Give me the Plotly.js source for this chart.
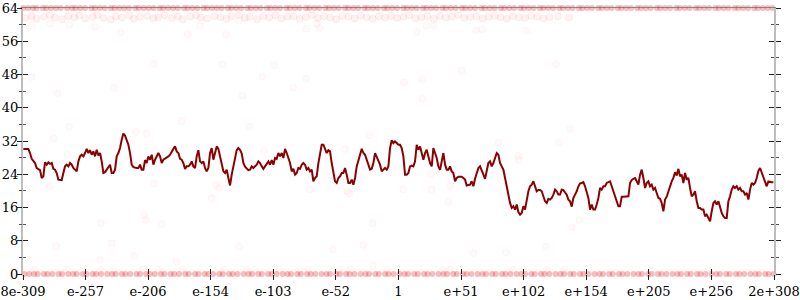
<!DOCTYPE html>
<html>
<head>
<meta charset="utf-8">
<script src="https://cdn.plot.ly/plotly-3.0.1.min.js"></script>
<style>html,body{margin:0;padding:0;background:#fff;}#chart{width:800px;height:300px;}</style>
</head>
<body>
<div id="chart"></div>
<script>
// ---- x axis ticks (log10 exponent units) ----
const xTickVals = [-308.1, -256.8, -205.5, -154.1, -102.8, -51.4, 0, 51.4, 102.8, 154.1, 205.5, 256.8, 308.3];
const xTickText = ["8e-309", "e-257", "e-206", "e-154", "e-103", "e-52", "1", "e+51", "e+102", "e+154", "e+205", "e+256", "2e+308"];

// ---- smoothed line: bins start at exponent lineStart, spaced lineStep ----
const lineStart = -307.8;
const lineStep = 1.368;
const lineY = [
  30.1,30.1,30.1,30.1,29.1,27.7,27.2,26.7,25.5,25.3,
  25.0,23.1,23.5,26.9,26.3,26.9,26.5,26.7,25.3,25.1,
  24.3,22.7,22.6,22.6,24.3,25.9,26.3,25.9,26.7,26.3,
  25.5,25.1,24.7,27.1,28.3,28.7,28.3,29.1,30.1,29.1,
  29.8,28.7,29.5,28.3,29.9,28.5,29.1,27.1,24.3,24.5,
  25.1,25.9,26.3,24.3,24.3,25.1,28.3,29.1,30.3,32.3,
  33.8,33.3,32.3,31.1,29.1,26.3,25.7,25.5,25.5,25.5,
  26.3,25.1,25.1,27.4,26.7,28.3,27.5,28.7,26.3,27.5,
  28.3,29.1,28.3,26.7,27.5,27.7,27.9,28.3,28.7,29.5,
  30.1,30.7,29.5,29.1,27.7,27.5,26.7,25.3,25.9,25.9,
  26.3,27.1,25.9,25.5,28.3,29.8,27.1,26.7,27.1,25.5,
  24.7,25.5,29.1,30.3,27.5,29.1,30.7,30.1,28.3,26.7,
  24.7,24.3,25.1,23.1,21.3,23.9,25.9,28.3,29.8,30.3,
  29.9,29.0,26.7,25.8,25.5,25.0,25.1,25.9,25.5,25.9,
  26.3,27.1,26.7,25.9,25.3,25.9,26.7,27.1,
  26.3,27.4,26.3,27.9,27.7,29.1,28.3,29.1,27.9,30.1,
  29.1,27.9,26.7,24.7,25.3,23.9,24.3,25.5,25.3,26.3,
  26.7,26.3,25.1,25.5,24.7,25.1,22.3,23.1,23.5,26.7,
  29.1,31.1,31.1,30.3,29.1,29.8,29.5,26.7,24.3,22.3,
  21.9,23.1,23.5,24.3,24.3,25.5,23.9,21.9,21.9,22.7,
  21.5,23.1,25.9,27.1,28.7,30.1,29.1,28.7,27.5,25.9,
  25.1,25.3,26.7,29.1,28.3,27.1,26.3,24.7,25.1,25.5,
  25.1,25.9,30.3,32.2,31.5,31.9,31.5,31.1,31.1,30.3,
  28.3,23.9,23.9,24.3,25.9,26.1,25.9,27.1,31.1,29.9,
  30.7,29.1,27.5,29.1,29.9,28.3,26.7,25.9,30.3,29.1,
  27.9,25.9,25.1,27.1,29.1,26.3,25.1,25.1,25.9,24.7,
  24.3,22.3,23.1,23.4,23.4,23.4,23.1,22.7,21.3,21.5,
  21.5,22.3,21.1,22.9,24.3,25.5,25.9,24.7,23.9,22.9,
  25.1,26.7,27.1,25.9,26.7,27.9,29.1,28.7,26.7,25.9,
  25.1,23.1,21.1,18.7,17.1,15.9,16.3,15.5,16.7,14.9,
  14.3,14.7,16.3,15.5,18.3,19.9,
  21.1,21.5,22.3,21.1,19.9,20.2,20.2,19.9,18.7,17.5,
  17.1,18.1,17.9,18.3,19.1,20.3,19.9,19.1,19.1,20.3,
  20.2,19.7,19.1,17.9,17.5,16.2,18.3,19.1,19.9,21.1,
  21.8,21.9,22.1,21.1,19.5,18.3,15.5,16.7,15.5,15.5,
  16.7,18.3,20.7,20.3,21.1,21.1,21.9,22.1,22.3,21.1,
  19.9,18.3,17.1,16.3,16.3,18.6,18.6,18.6,18.6,18.7,
  21.9,22.6,22.9,23.1,22.3,21.5,23.9,25.1,23.1,20.7,
  21.9,22.3,21.1,21.5,20.3,20.7,19.5,18.3,18.1,17.1,
  15.1,17.9,18.6,19.9,21.5,22.3,23.1,24.5,23.7,25.3,
  23.5,23.9,21.9,24.3,22.7,23.1,20.7,18.7,19.1,19.9,
  17.5,15.9,15.9,15.5,15.5,13.9,14.3,13.5,12.7,15.1,
  17.1,17.5,16.7,17.5,15.9,14.7,13.9,13.5,13.5,17.5,
  18.7,20.3,21.1,20.7,21.1,20.3,20.7,19.9,19.9,19.1,
  19.5,17.9,20.3,21.9,21.5,21.9,23.1,24.8,25.5,24.3,
  23.1,22.3,21.1,22.3,22.1,22.1,22.1
];

// ---- faint sample points ----
const topBandValue = 64;
const topBandX = [-308,-304,-300,-297,-292,-289,-285,-281,-277,-272,-268,-265,-261,-257,-252,-249,-245,-241,-236,-233,-229,-225,-221,-216,-213,-209,-205,-201,-196,-193,-189,-185,-181,-176,-173,-169,-165,-160,-157,-153,-149,-145,-140,-137,-133,-129,-124,-121,-117,-113,-108,-105,-101,-97,-92,-89,-85,-81,-76,-73,-69,-65,-60,-57,-53,-49,-44,-41,-37,-33,-28,-25,-21,-17,-12,-9,-5,-1,4,7,11,15,20,23,27,31,36,39,43,47,52,55,59,63,68,71,75,79,84,87,91,95,100,103,107,111,116,119,123,127,132,135,139,143,148,151,155,159,164,167,171,175,180,183,187,191,196,199,203,207,212,215,219,223,228,231,235,239,244,247,251,255,260,263,267,271,276,279,283,287,292,295,299,303,307];
const bottomBandValue = 0;
const bottomBandX = [-307,-303,-299,-296,-291,-288,-284,-279,-276,-271,-267,-264,-259,-256,-251,-248,-244,-239,-235,-232,-227,-224,-220,-215,-212,-207,-204,-200,-195,-192,-187,-184,-180,-175,-172,-167,-164,-159,-156,-152,-147,-144,-139,-136,-132,-127,-123,-120,-115,-112,-107,-104,-100,-95,-91,-88,-83,-80,-75,-72,-68,-63,-59,-56,-51,-48,-43,-40,-36,-31,-27,-24,-19,-16,-11,-8,-4,1,5,8,13,16,21,24,28,33,37,40,45,48,53,56,60,65,69,72,77,80,85,88,92,97,101,104,109,112,117,120,124,129,133,136,141,144,149,152,156,161,165,168,173,176,181,184,188,193,197,200,205,208,213,216,220,225,229,232,237,240,245,248,252,257,261,264,269,272,277,280,284,289,293,296,301,304,308];
const upperBandX = [-306,-301,-297,-291,-286,-282,-276,-271,-266,-262,-257,-251,-247,-242,-236,-232,-227,-221,-217,-212,-206,-201,-197,-192,-186,-181,-177,-171,-166,-162,-157,-151,-146,-141,-137,-131,-126,-122,-116,-111,-106,-101,-96,-91,-86,-81,-76,-71,-66,-61,-56,-51,-46,-41,-36,-31,-26,-21,-16,-11,-6,-1,4,9,14,19,24,29,34,39,44,49,54,59,64,69,74,79,84,89,94,99,104,109,114,119,124,131,140];
const upperBandY = [61.6,62.1,61.4,61.9,62.3,61.7,61.3,62.0,61.8,62.2,61.5,61.9,62.3,61.6,61.2,62.0,61.7,62.2,61.4,61.9,62.1,61.5,61.8,62.3,61.6,62.0,61.3,61.9,62.2,61.7,61.5,62.1,61.8,61.4,62.0,62.3,61.6,61.9,61.3,62.1,61.7,62.2,61.5,61.9,62.0,61.4,61.8,62.3,61.6,62.0,61.7,61.3,62.1,61.9,61.5,62.2,61.8,61.4,62.0,61.7,62.1,61.6,61.9,62.2,61.5,61.8,62.0,61.4,62.1,61.7,61.9,62.3,61.6,61.8,62.0,61.5,61.9,62.1,61.7,61.4,62.0,61.8,61.6,62.1,61.9,61.5,61.8,62.0,61.7];
const lowBandValue = 1;
const lowBandX = [-299.1,-272.0,-244.1,-234.2,-209.6,-196.5,-176.8,-143.1,-124.3,-117.7,-97.2,-81.6,-74.2,-47.9,-39.7,-9.4,36.6,42.4,94.0,122.0,136.0];
const scatterX = [-301.0,-285.9,-270.3,-249.0,-227.9,-200.6,-172.9,-162.8,-144.2,-141.5,-130.8,-301.0,-279.9,-233.2,-111.4,-127.8,-102.1,-75.8,-86.3,-75.8,-64.9,-67.1,15.0,23.2,29.2,63.7,68.6,105.3,4.6,19.9,52.0,19.9,129.3,-270.3,-177.9,-122.4,-282.7,-215.4,-206.6,-271.4,-286.5,-200.3,-149.7,-147.2,-153.2,-125.1,-208.8,-207.2,-194.3,-244.1,-110.3,-23.9,-43.8,-72.6,-42.0,-40.6,4.0,27.3,26.5,42.3,41.0,82.0,98.4,99.2,-21.1,140.8,131.8,148.5,142.2,-281.0,-235.3,-244.9,-217.0,-182.0,-130.6,-53.9,-28.8,-21.1,61.5,88.3,121.1];
const scatterY = [59.7,60.2,60.0,59.4,58.1,50.6,57.7,59.7,50.4,57.5,61.0,47.4,43.4,44.8,47.5,42.9,50.2,47.0,44.9,59.0,59.2,60.2,58.3,59.7,59.7,58.6,58.9,58.6,46.1,46.9,48.9,42.1,50.5,35.4,36.8,35.4,32.6,34.2,33.8,28.9,21.2,21.8,21.5,20.7,18.2,29.5,14.2,13.0,12.0,12.2,29.6,33.4,30.1,20.4,20.0,19.4,20.4,20.4,24.0,21.2,17.3,31.6,28.4,27.4,12.2,34.9,31.6,13.0,11.2,6.8,7.4,3.4,4.4,3.0,6.5,6.0,7.0,2.0,5.0,5.2,6.6];

// ---- build traces ----
const lineX = lineY.map((_, i) => lineStart + i * lineStep);
const faint = {color: 'rgba(255,0,0,0.02)', size: 7, line: {color: 'rgba(255,0,0,0.04)', width: 1}};
const mid = {color: 'rgba(245,0,0,0.05)', size: 7, line: {color: 'rgba(245,0,0,0.05)', width: 1}};
const band = {color: 'rgba(228,20,20,0.28)', size: 6, line: {width: 0}};

function pts(x, y, marker) {
  return {type: 'scatter', mode: 'markers', x: x, y: y, marker: marker, cliponaxis: false, hoverinfo: 'skip', showlegend: false};
}
function dummy(xa, ya) {
  return {type: 'scatter', mode: 'markers', x: [0], y: [0], xaxis: xa, yaxis: ya, marker: {opacity: 0}, hoverinfo: 'skip', showlegend: false};
}

const traces = [
  pts(scatterX, scatterY, faint),
  pts(lowBandX, lowBandX.map(() => lowBandValue), faint),
  pts(upperBandX, upperBandY, mid),
  pts(topBandX, topBandX.map(() => topBandValue), band),
  pts(bottomBandX, bottomBandX.map(() => bottomBandValue), band),
  {type: 'scatter', mode: 'lines', x: lineX, y: lineY, line: {color: '#8b0000', width: 2}, hoverinfo: 'skip', showlegend: false},
  dummy('x2', 'y2'), dummy('x3', 'y3'), dummy('x3', 'y4')
];

const xRange = [-308.1, 308.3];
const yRange = [0, 64];
const tickColor = '#222';
const noGrid = {showgrid: false, zeroline: false, fixedrange: true};

const layout = {
  width: 800, height: 300,
  margin: {l: 23, r: 26, t: 8, b: 26, pad: 0},
  paper_bgcolor: '#fff', plot_bgcolor: '#fff',
  showlegend: false,
  font: {family: 'DejaVu Serif, serif', size: 13, color: '#000'},
  xaxis: Object.assign({range: xRange, tickmode: 'array', tickvals: xTickVals, ticktext: xTickText,
    ticks: 'outside', ticklen: 5, tickcolor: tickColor, tickwidth: 1, showline: false}, noGrid),
  xaxis2: Object.assign({overlaying: 'x', anchor: 'y2', range: xRange, tickmode: 'array', tickvals: xTickVals,
    showticklabels: false, ticks: 'inside', ticklen: 5, tickcolor: tickColor, tickwidth: 1, showline: false}, noGrid),
  xaxis3: Object.assign({overlaying: 'x', anchor: 'y3', side: 'top', range: xRange, showticklabels: false, ticks: '',
    showline: true, linecolor: 'rgba(110,110,110,0.75)', linewidth: 1}, noGrid),
  // labelled left axis: inside ticks so labels sit close to the axis
  yaxis: Object.assign({range: yRange, tick0: 0, dtick: 8, ticks: 'inside', ticklen: 5, tickcolor: tickColor, tickwidth: 1,
    minor: {dtick: 4, ticks: 'inside', ticklen: 3, tickcolor: '#555'},
    showline: true, linecolor: '#bdbdbd', linewidth: 2}, noGrid),
  yaxis2: Object.assign({overlaying: 'y', anchor: 'x2', side: 'left', range: yRange, tick0: 0, dtick: 8, showticklabels: false,
    ticks: 'outside', ticklen: 5, tickcolor: tickColor, tickwidth: 1,
    minor: {dtick: 4, ticks: 'outside', ticklen: 3, tickcolor: '#555'}, showline: false}, noGrid),
  yaxis3: Object.assign({overlaying: 'y', anchor: 'x3', side: 'right', range: yRange, tick0: 0, dtick: 8, showticklabels: false,
    ticks: 'outside', ticklen: 5, tickcolor: tickColor, tickwidth: 1,
    minor: {dtick: 4, ticks: 'outside', ticklen: 3, tickcolor: '#555'},
    showline: true, linecolor: '#bdbdbd', linewidth: 2}, noGrid),
  yaxis4: Object.assign({overlaying: 'y', anchor: 'x3', side: 'right', range: yRange, tick0: 0, dtick: 8, showticklabels: false,
    ticks: 'inside', ticklen: 5, tickcolor: tickColor, tickwidth: 1,
    minor: {dtick: 4, ticks: 'inside', ticklen: 3, tickcolor: '#555'}, showline: false}, noGrid)
};

Plotly.newPlot('chart', traces, layout, {staticPlot: true, displayModeBar: false});
</script>
</body>
</html>
